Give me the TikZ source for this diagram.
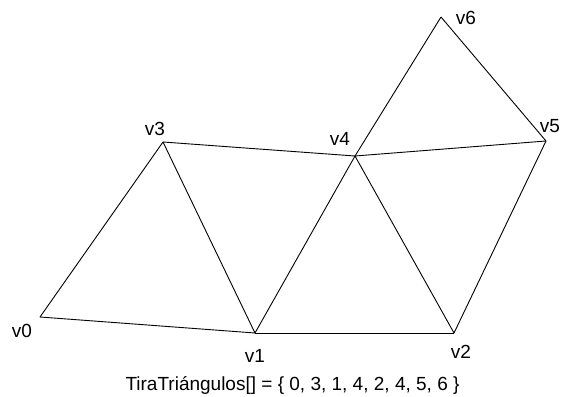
\documentclass[tikz,border=0pt]{standalone}
\usepackage{fontspec}
\setmainfont{Liberation Sans}
\begin{document}
\begin{tikzpicture}[x=1pt,y=-1pt,
  edge/.style={draw=black,line width=0.9pt,line join=round},
  lbl/.style={inner sep=0pt,font=\fontsize{19}{22}\selectfont}]
\useasboundingbox (0,0) rectangle (561,396);
\coordinate (v0) at (40,317);
\coordinate (v3) at (163,142);
\coordinate (v1) at (255,333);
\coordinate (v4) at (355,156);
\coordinate (v2) at (454,333);
\coordinate (v5) at (546,141);
\coordinate (v6) at (441,17);
\draw[edge] (v0) -- (v3);
\draw[edge] (v0) -- (v1);
\draw[edge] (v3) -- (v1);
\draw[edge] (v3) -- (v4);
\draw[edge] (v1) -- (v4);
\draw[edge] (v1) -- (v2);
\draw[edge] (v4) -- (v2);
\draw[edge] (v4) -- (v5);
\draw[edge] (v2) -- (v5);
\draw[edge] (v4) -- (v6);
\draw[edge] (v6) -- (v5);
\node[lbl] (l0) at (22,331) {v0};
\node[lbl] (l3) at (155,129) {v3};
\node[lbl] (l1) at (255,356) {v1};
\node[lbl] (l4) at (340,139) {v4};
\node[lbl] (l2) at (461,352) {v2};
\node[lbl] (l5) at (550,126) {v5};
\node[lbl] (l6) at (466,18) {v6};
\node[lbl,anchor=base] (cap) at (292.5,390) {TiraTriángulos[] = \{ 0, 3, 1, 4, 2, 4, 5, 6 \}};
\end{tikzpicture}
\end{document}
